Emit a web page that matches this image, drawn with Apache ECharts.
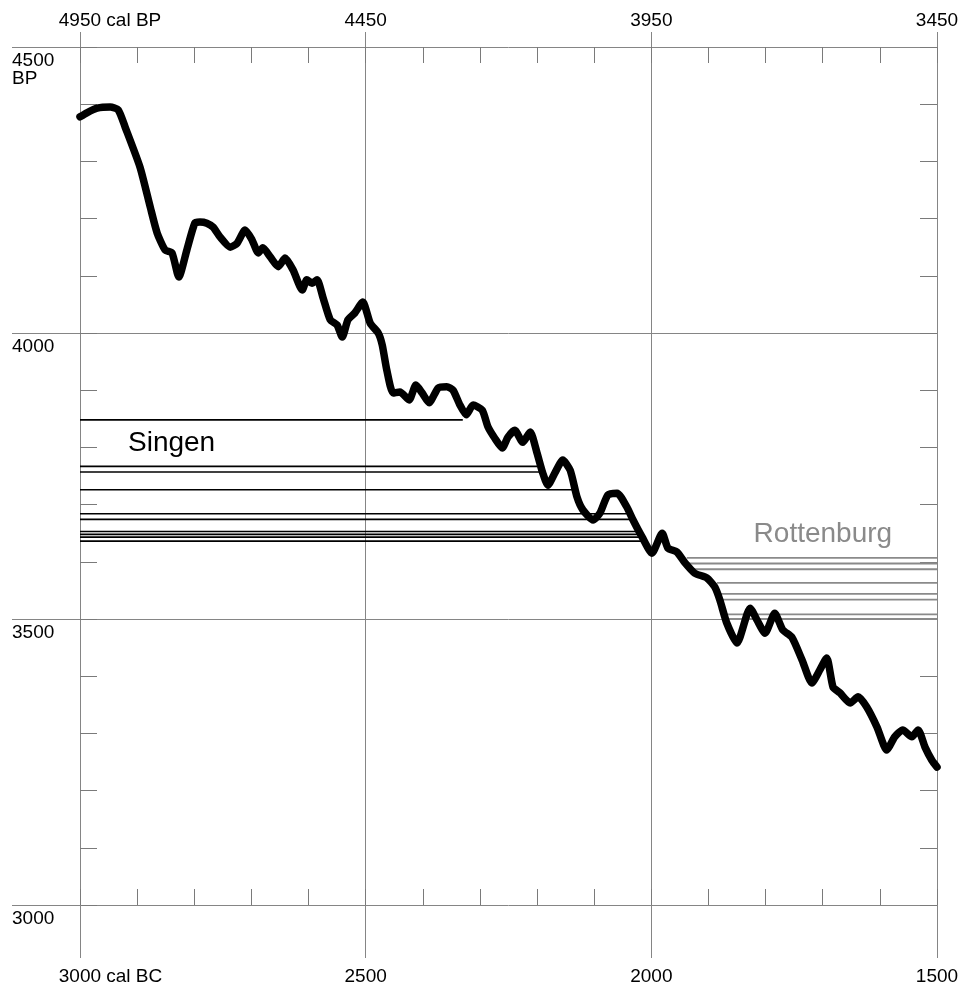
<!DOCTYPE html>
<html>
<head>
<meta charset="utf-8">
<script src="https://cdn.jsdelivr.net/npm/echarts@6/dist/echarts.min.js"></script>
<style>
html,body{margin:0;padding:0;background:#fff;}
#chart{width:963px;height:988px;}
</style>
</head>
<body>
<div id="chart"></div>
<script>
// ---- calibration curve (cal BC vs. radiocarbon BP) ----
const calBC = [3000,2988,2970,2947,2933,2921,2895,2877,2865,2851,
  2839,2827,2813,2799,2790,2778,2767,2755,2737,2725,
  2711,2699,2688,2680,2667,2653,2641,2627,2611,2603,
  2594,2585,2575,2562,2550,2541,2531,2519,2505,2492,
  2478,2471,2463,2452,2440,2424,2412,2401,2389,2373,
  2358,2347,2335,2324,2312,2296,2286,2274,2261,2251,
  2239,2225,2212,2200,2190,2181,2169,2155,2142,2130,
  2120,2102,2090,2076,2060,2043,2032,2016,1999,1981,
  1971,1955,1941,1924,1903,1889,1880,1868,1850,1827,
  1815,1801,1784,1770,1754,1736,1719,1705,1693,1682,
  1670,1652,1638,1623,1605,1588,1574,1560,1544,1533,
  1521,1509,1500];
const calBP = [4378,4385,4393,4395,4390,4360,4290,4220,4175,4145,
  4140,4098,4145,4192,4194,4192,4185,4168,4150,4157,
  4180,4163,4140,4149,4133,4116,4131,4110,4075,4093,
  4087,4093,4063,4023,4014,3993,4023,4035,4054,4017,
  4000,3979,3935,3895,3897,3883,3909,3895,3878,3904,
  3906,3900,3874,3857,3874,3865,3836,3816,3799,3818,
  3830,3809,3827,3790,3755,3734,3755,3778,3760,3713,
  3691,3673,3685,3717,3720,3696,3673,3643,3615,3650,
  3624,3617,3598,3580,3572,3556,3533,3493,3458,3519,
  3498,3475,3510,3481,3468,3428,3388,3411,3432,3381,
  3371,3353,3364,3346,3311,3271,3294,3306,3294,3306,
  3276,3253,3241];

// ---- Singen dates (BP) and where their lines meet the curve (cal BC) ----
const singenBP    = [3848,3767,3757,3726,3684,3674,3653,3648,3643,3636];
const singenEndBC = [2330,2198,2191,2137,2043,2037,2025,2022,2018,2015];

// ---- Rottenburg dates (BP) and where their lines meet the curve (cal BC) ----
const rottenburgBP      = [3607,3597,3587,3563,3544,3534,3508,3500];
const rottenburgStartBC = [1938,1936,1927,1885,1880,1875,1873,1871];

// ---- labels ----
const labelSingen = 'Singen';
const labelRottenburg = 'Rottenburg';
const singenLabelPos = [2916, 3807];
const rottenburgLabelPos = [1821, 3648];

// ---- axes ----
const xMinBC = 1500, xMaxBC = 3000;
const yMinBP = 3000, yMaxBP = 4500;
const minorStep = 100, majorStep = 500;
const bpOffset = 1950;  // cal BP = cal BC + 1950
const bottomSuffix = ' cal BC';
const topSuffix = ' cal BP';
const leftTopSuffix = 'BP';

const FONT = '"Liberation Sans", Arial, Helvetica, sans-serif';
const GRID_COLOR = '#858585';
const TICK_COLOR = '#7a7a7a';

const chart = echarts.init(document.getElementById('chart'), null, {renderer: 'canvas'});

const baseX = {
  type: 'value', min: xMinBC, max: xMaxBC, inverse: true,
  axisLine: {show: false}, splitLine: {show: false}
};
const baseY = {
  type: 'value', min: yMinBP, max: yMaxBP,
  axisLine: {show: false}, splitLine: {show: false}
};

const series = [];

singenBP.forEach((v, i) => {
  series.push({
    type: 'line', xAxisIndex: 0, yAxisIndex: 0, z: 2,
    symbol: 'none', silent: true, animation: false,
    lineStyle: {color: '#000', width: 1.7},
    data: [[xMaxBC, v], [singenEndBC[i], v]]
  });
});
rottenburgBP.forEach((v, i) => {
  series.push({
    type: 'line', xAxisIndex: 0, yAxisIndex: 0, z: 2,
    symbol: 'none', silent: true, animation: false,
    lineStyle: {color: '#8a8a8a', width: 1.8},
    data: [[rottenburgStartBC[i], v], [xMinBC, v]]
  });
});
series.push({
  type: 'line', xAxisIndex: 0, yAxisIndex: 0, z: 5,
  symbol: 'none', silent: true, animation: false, smooth: 0.2,
  lineStyle: {color: '#000', width: 7.5, join: 'round', cap: 'round'},
  data: calBC.map((b, i) => [b, calBP[i]])
});
series.push({
  type: 'scatter', xAxisIndex: 0, yAxisIndex: 0, z: 6,
  symbolSize: 0, silent: true, animation: false,
  label: {show: true, position: 'right', distance: 0,
    formatter: (p) => p.data.name, color: '#000',
    fontFamily: FONT, fontSize: 28},
  data: [
    {name: labelSingen, value: singenLabelPos, label: {color: '#000000', opacity: 1}},
    {name: labelRottenburg, value: rottenburgLabelPos, label: {color: '#8a8a8a', opacity: 1}}
  ]
});

const option = {
  animation: false,
  backgroundColor: '#fff',
  grid: {left: 80, right: 26, top: 47, bottom: 83, containLabel: false, outerBoundsMode: 'none'},
  xAxis: [
    // bottom minor ticks + labels
    Object.assign({}, baseX, {
      position: 'bottom', interval: minorStep,
      axisTick: {show: true, inside: true, length: 16, lineStyle: {color: TICK_COLOR, width: 1}},
      axisLabel: {
        show: true, margin: 62, fontFamily: FONT, fontSize: 19, lineHeight: 19, color: '#000',
        formatter: (v) => {
          if (v % majorStep !== 0) return '';
          if (v === xMaxBC) return '{a|' + v + bottomSuffix + '}';
          return String(v);
        },
        rich: {a: {fontFamily: FONT, fontSize: 19, lineHeight: 19, color: '#000', padding: [0, 0, 0, 61]}}
      }
    }),
    // bottom major grid lines extending below
    Object.assign({}, baseX, {
      position: 'bottom', interval: majorStep,
      axisTick: {show: true, inside: false, length: 53, lineStyle: {color: GRID_COLOR, width: 1}},
      axisLabel: {show: false},
      splitLine: {show: true, lineStyle: {color: GRID_COLOR, width: 1}}
    }),
    // top minor ticks + cal BP labels
    Object.assign({}, baseX, {
      position: 'top', interval: minorStep,
      axisTick: {show: true, inside: true, length: 16, lineStyle: {color: TICK_COLOR, width: 1}},
      axisLabel: {
        show: true, margin: 17, fontFamily: FONT, fontSize: 19, lineHeight: 19, color: '#000',
        formatter: (v) => {
          if (v % majorStep !== 0) return '';
          const bp = v + bpOffset;
          if (v === xMaxBC) return '{a|' + bp + topSuffix + '}';
          return String(bp);
        },
        rich: {a: {fontFamily: FONT, fontSize: 19, lineHeight: 19, color: '#000', padding: [0, 0, 0, 60]}}
      }
    }),
    // top major grid extension
    Object.assign({}, baseX, {
      position: 'top', interval: majorStep,
      axisTick: {show: true, inside: false, length: 15, lineStyle: {color: GRID_COLOR, width: 1}},
      axisLabel: {show: false}
    })
  ],
  yAxis: [
    // left minor ticks + labels
    Object.assign({}, baseY, {
      position: 'left', interval: minorStep,
      axisTick: {show: true, inside: true, length: 17, lineStyle: {color: TICK_COLOR, width: 1}},
      axisLabel: {
        show: true, margin: 68, align: 'left', verticalAlign: 'top',
        padding: [5, 0, 0, 0],
        fontFamily: FONT, fontSize: 19, lineHeight: 18, color: '#000',
        formatter: (v) => {
          if (v % majorStep !== 0) return '';
          if (v === yMaxBP) return v + '\n' + leftTopSuffix;
          return String(v);
        }
      }
    }),
    // horizontal grid lines extending to the left
    Object.assign({}, baseY, {
      position: 'left', interval: majorStep,
      axisTick: {show: true, inside: false, length: 68, lineStyle: {color: GRID_COLOR, width: 1}},
      axisLabel: {show: false},
      splitLine: {show: true, lineStyle: {color: GRID_COLOR, width: 1}}
    }),
    // right minor ticks
    Object.assign({}, baseY, {
      position: 'right', interval: minorStep,
      axisTick: {show: true, inside: true, length: 17, lineStyle: {color: TICK_COLOR, width: 1}},
      axisLabel: {show: false}
    })
  ],
  series: series
};

chart.setOption(option);
</script>
</body>
</html>
